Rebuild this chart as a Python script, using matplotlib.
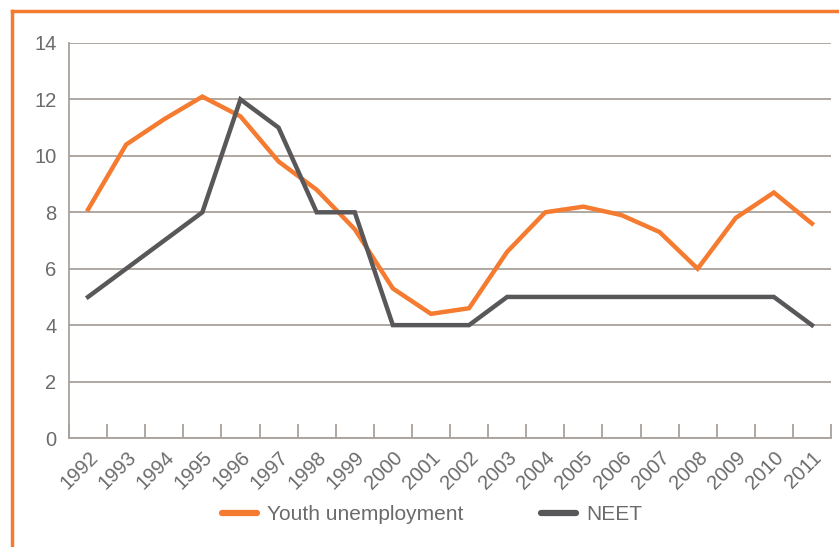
import matplotlib
matplotlib.use("Agg")
import matplotlib.pyplot as plt
import numpy as np
from matplotlib.lines import Line2D

years = [str(y) for y in range(1992, 2012)]
youth_unemployment = [8.1, 10.4, 11.3, 12.1, 11.4, 9.8, 8.8, 7.4, 5.3, 4.4,
                      4.6, 6.6, 8.0, 8.2, 7.9, 7.3, 6.0, 7.8, 8.7, 7.6]
neet = [5, 6, 7, 8, 12, 11, 8, 8, 4, 4, 4, 5, 5, 5, 5, 5, 5, 5, 5, 4]
y_ticks = [0, 2, 4, 6, 8, 10, 12, 14]

ORANGE = "#F47B30"
DARK = "#58585A"
GRID = "#A9A19B"
TEXT = "#6B6B6B"

plt.rcParams['font.family'] = ['Liberation Sans', 'DejaVu Sans']

W, H = 839, 547
fig = plt.figure(figsize=(W / 100, H / 100), dpi=100)
ax = fig.add_axes([69 / W, 1 - 438 / H, (831 - 69) / W, (438 - 43) / H])

x = np.arange(len(years))
ax.plot(x, youth_unemployment, color=ORANGE, lw=3.2, label="Youth unemployment", solid_joinstyle='miter')
ax.plot(x, neet, color=DARK, lw=3.2, label="NEET", solid_joinstyle='miter')

ax.set_xlim(-0.5, len(years) - 0.5)
ax.set_ylim(0, 14)
ax.set_yticks(y_ticks)
ax.set_yticklabels([str(v) for v in y_ticks])
ax.yaxis.grid(True, color=GRID, lw=1.3)
ax.set_axisbelow(True)

ax.set_xticks(x)
ax.set_xticklabels(years, rotation=45, ha='right', va='top', rotation_mode='anchor')
ax.set_xticks(np.arange(len(years) + 1) - 0.5, minor=True)
ax.tick_params(axis='x', which='major', length=0, pad=7, labelsize=14.5, colors=TEXT)
ax.tick_params(axis='x', which='minor', direction='in', length=10, width=1.3, color=GRID)
ax.tick_params(axis='y', length=0, pad=9, labelsize=14.5, colors=TEXT)

for s in ['top', 'right']:
    ax.spines[s].set_visible(False)
for s in ['left', 'bottom']:
    ax.spines[s].set_color(GRID)
    ax.spines[s].set_linewidth(1.3)

leg = fig.legend(loc='center', bbox_to_anchor=(0.515, 1 - 515 / H), ncol=2, frameon=False,
                 fontsize=15, handlelength=1.7, handletextpad=0.5, columnspacing=3.7, labelcolor=TEXT)
for h in leg.legend_handles:
    h.set_linewidth(4.5)
    h.set_solid_capstyle('round')

# orange frame (top and left)
fig.add_artist(Line2D([12 / W, 1.0], [1 - 11 / H, 1 - 11 / H], color=ORANGE, lw=2.5, transform=fig.transFigure))
fig.add_artist(Line2D([12 / W, 12 / W], [0, 1 - 11 / H], color=ORANGE, lw=2.5, transform=fig.transFigure))

fig.savefig("out.png", dpi=100)
